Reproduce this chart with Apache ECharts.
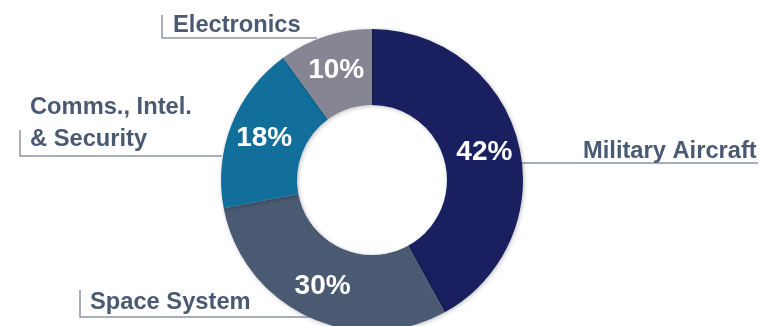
<!DOCTYPE html>
<html>
<head>
<meta charset="utf-8">
<script src="https://cdn.jsdelivr.net/npm/echarts@6/dist/echarts.min.js"></script>
<style>
html,body{margin:0;padding:0;background:#fff;}
#chart{width:763px;height:326px;}
</style>
</head>
<body>
<div id="chart"></div>
<script>
// Data
var categories = ['Military Aircraft', 'Space System', 'Comms., Intel.\n& Security', 'Electronics'];
var shares = [42, 30, 18, 10];
var colors = ['#1a1f5f', '#4a5a72', '#126f9b', '#858594'];

// Callout layout (positions of outside labels and their leader lines)
var callouts = [
  {x: 583, y: 151, pts: [[521, 163], [758, 163], [758, 163]]},
  {x: 90, y: 302, pts: [[310, 317], [80, 317], [80, 290]]},
  {x: 30, y: 123, pts: [[222, 156], [20, 156], [20, 130]]},
  {x: 173, y: 25, pts: [[317, 38], [162, 38], [162, 15]]}
];

var data = categories.map(function (c, i) {
  return {name: c, value: shares[i], itemStyle: {color: colors[i]}};
});

var chart = echarts.init(document.getElementById('chart'), null, {renderer: 'canvas'});
chart.setOption({
  animation: false,
  series: [
    {
      type: 'pie',
      center: [372, 180],
      radius: [75, 151],
      startAngle: 90,
      clockwise: true,
      silent: true,
      itemStyle: {shadowBlur: 4, shadowColor: 'rgba(0,0,0,0.25)', shadowOffsetX: 1, shadowOffsetY: 1},
      label: {
        show: true,
        position: 'inside',
        formatter: '{c}%',
        color: '#ffffff',
        fontFamily: 'Liberation Sans, Arial, sans-serif',
        fontWeight: 'bold',
        fontSize: 28,
        offset: [0, 1]
      },
      labelLine: {show: false},
      data: data
    },
    {
      type: 'pie',
      center: [372, 180],
      radius: [75, 151],
      startAngle: 90,
      clockwise: true,
      silent: true,
      itemStyle: {color: 'rgba(0,0,0,0)'},
      label: {
        show: true,
        position: 'outside',
        formatter: '{b}',
        color: '#4a5a72',
        fontFamily: 'Liberation Sans, Arial, sans-serif',
        fontWeight: 'bold',
        fontSize: 23.7,
        lineHeight: 32
      },
      labelLine: {show: true, lineStyle: {color: '#8a93a5', width: 1.5}},
      labelLayout: function (p) {
        var c = callouts[p.dataIndex];
        return {
          x: c.x,
          y: c.y,
          align: 'left',
          verticalAlign: 'middle',
          labelLinePoints: c.pts
        };
      },
      data: categories.map(function (c, i) { return {name: c, value: shares[i]}; })
    }
  ]
});
</script>
</body>
</html>
